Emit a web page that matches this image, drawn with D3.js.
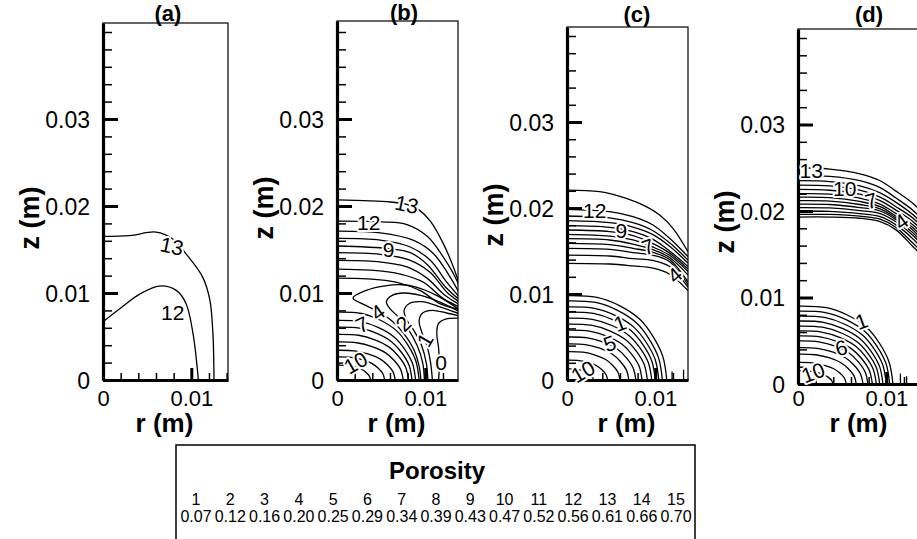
<!DOCTYPE html>
<html><head><meta charset="utf-8">
<script src="https://cdn.jsdelivr.net/npm/d3@7"></script>
<style>body{margin:0;background:#fff}svg{display:block}text{font-family:"Liberation Sans",Arial,Helvetica,sans-serif;fill:#000}</style>
</head><body><svg id="c" width="917" height="539"></svg>
<script>
// ---------- data (r, z in mm) ----------
const panelTitles = ["(a)", "(b)", "(c)", "(d)"];
const zMajor = [0, 10, 20, 30];
const zMajorLabels = ["0", "0.01", "0.02", "0.03"];
const zMinor = [2, 4, 6, 8, 12, 14, 16, 18, 22, 24, 26, 28, 32, 34, 36, 38, 40];
const rMajor = [0, 10];
const rMajorLabels = ["0", "0.01"];
const rMinor = [2, 4, 6, 8, 12, 14];
const legendLevels = [1, 2, 3, 4, 5, 6, 7, 8, 9, 10, 11, 12, 13, 14, 15];
const legendPorosity = [0.07, 0.12, 0.16, 0.20, 0.25, 0.29, 0.34, 0.39, 0.43, 0.47, 0.52, 0.56, 0.61, 0.66, 0.70];

// normalized shape of the quarter-arc contours near the origin
const arcShape = [[0, 1], [0.3, 0.98], [0.53, 0.88], [0.73, 0.72], [0.86, 0.52], [0.96, 0.28], [1, 0]];

// panel (a)
const contoursA = [
  [[0, 16.5], [3, 16.6], [6, 17.0], [7.9, 16.2], [9.4, 14.5], [11.3, 11.8], [12.1, 9.2], [12.45, 5.3], [12.57, 0]],
  [[0, 6.7], [1.9, 8.2], [4.2, 9.9], [6.4, 10.8], [8.3, 10.3], [9.4, 8.8], [10.2, 5.3], [10.8, 0]]
];
const labelsA = [["13", 7.8, 15.4, 12], ["12", 7.9, 7.8, 0]];

// panel (b)
const bBand = [
  [[0, 20.7], [6.04, 20.46], [7.9, 20.2], [9.25, 19.58], [10.57, 18.25], [12.08, 15.59], [13.2, 12.93], [14.15, 10.08]],
  [[0, 18.25], [5.09, 18.17], [7.92, 17.87], [10.19, 16.54], [12.08, 14.07], [13.58, 11.41], [14.15, 9.7]],
  [[0, 17.11], [4.91, 16.92], [8.68, 16.05], [10.94, 14.52], [12.83, 11.79], [14.15, 9.43]],
  [[0, 16.27], [4.91, 16.08], [8.3, 15.29], [10.57, 13.76], [12.45, 11.22], [14.15, 9.2]],
  [[0, 15.4], [5.85, 15.1], [8.3, 14.64], [10.19, 13.31], [12.26, 10.72], [14.15, 8.97]],
  [[0, 14.64], [4.91, 14.45], [8.3, 13.76], [10.57, 12.36], [12.45, 10.08], [14.15, 8.75]],
  [[0, 13.76], [4.53, 13.61], [7.92, 13.0], [10.19, 11.71], [12.26, 9.7], [14.15, 8.52]],
  [[0, 12.74], [3.77, 12.62], [7.17, 12.17], [9.81, 11.22], [12.08, 9.32], [14.15, 8.29]],
  [[0, 11.71], [3.4, 11.63], [6.79, 11.22], [9.43, 10.27], [11.7, 8.75], [14.15, 8.06]]
];
const bHooks = [
  [[9.5, 0], [9.3, 1.6], [8.7, 3.5], [7.6, 5.3], [6.2, 6.8], [4.6, 7.9], [3.2, 8.6], [1.81, 9.43], [3.4, 10.34], [5.28, 10.8], [7.36, 10.95], [9.06, 10.65], [11.32, 9.7], [14.15, 7.9]],
  [[9.9, 0], [9.7, 2.0], [9.1, 3.9], [8.1, 5.8], [7.0, 7.2], [6.0, 8.2], [5.6, 9.0], [6.2, 9.7], [7.6, 10.0], [9.6, 9.7], [11.8, 8.9], [14.15, 7.7]],
  [[10.3, 0], [10.1, 2.0], [9.6, 3.9], [8.7, 5.7], [7.9, 6.9], [7.6, 8.0], [8.2, 8.8], [9.6, 9.0], [11.4, 8.5], [14.15, 7.5]],
  [[10.8, 0], [10.6, 2.0], [10.2, 3.9], [9.6, 5.5], [9.3, 6.8], [9.7, 7.7], [10.8, 8.0], [12.4, 7.7], [14.15, 7.3]],
  [[11.5, 0], [11.6, 1.8], [11.5, 3.7], [11.3, 5.4], [11.5, 6.5], [12.3, 7.0], [14.15, 7.1]]
];
const bArcs = [[9.3, 7.8], [8.9, 6.84], [8.5, 6.08], [8.1, 5.25], [7.5, 4.37], [6.6, 3.42], [5.4, 2.66], [3.8, 1.71]];
const labelsB = [["13", 7.9, 20.2, 12], ["12", 3.6, 18.06, 0], ["9", 5.85, 15.05, 0], ["4", 4.6, 7.8, -35],
  ["7", 2.85, 6.4, -25], ["2", 7.5, 6.5, -45], ["1", 9.95, 4.6, -60], ["0", 11.8, 2.0, 0], ["10", 2.1, 2.0, -30]];

// panel (c)
const cTop = [
  [[0, 22.09], [3.7, 21.9], [6.72, 21.12], [8.98, 20.16], [10.49, 19.19], [12.0, 17.64], [13.7, 14.92]],
  [[0, 19.84], [4.83, 19.57], [7.47, 18.99], [9.74, 18.02], [11.62, 16.47], [13.7, 14.34]]
];
const cBandR = [0, 4.83, 7.47, 9.74, 11.62, 13.7];
const cBandZ = [
  [19.07, 18.84, 18.29, 17.36, 15.95, 13.95],
  [18.53, 18.29, 17.79, 16.9, 15.55, 13.6],
  [17.95, 17.75, 17.25, 16.35, 15.0, 13.2],
  [17.44, 17.25, 16.78, 15.85, 14.75, 12.9],
  [16.94, 16.74, 16.28, 15.45, 14.5, 12.6],
  [16.43, 16.28, 15.81, 15.15, 14.25, 12.2],
  [15.89, 15.74, 15.31, 14.85, 14.0, 11.4],
  [15.31, 15.19, 14.81, 14.5, 13.75, 11.1],
  [14.53, 14.42, 14.11, 13.9, 13.2, 10.8],
  [13.57, 13.49, 13.26, 13.0, 12.3, 10.4]
];
const cArcs = [[11.3, 9.8], [10.8, 9.2], [10.4, 8.5], [10.0, 7.9], [9.6, 7.2], [9.1, 6.5], [8.5, 5.8], [7.8, 5.0], [7.0, 4.2], [6.0, 3.3], [4.6, 2.3], [3.0, 1.3]];
const cStubs = [[[11.9, 0], [11.9, 1.0]], [[13.2, 0], [13.2, 1.2]]];
const labelsC = [["12", 3.13, 19.77, 0], ["9", 6.15, 17.44, 0], ["7", 9.17, 15.5, -20], ["4", 12.19, 12.21, -40],
  ["1", 6.0, 6.6, -20], ["5", 4.83, 4.26, -20], ["10", 1.8, 1.0, -30]];

// panel (d)
const dBandR = [0, 3.6, 7.0, 9.3, 11.1, 13.0, 13.9];
const dBandZ = [
  [25.0, 24.85, 24.3, 23.5, 22.3, 20.9, 20.0],
  [24.1, 24.0, 23.5, 22.7, 21.5, 20.1, 19.2],
  [23.5, 23.4, 22.9, 22.1, 21.0, 19.6, 18.7],
  [23.0, 22.9, 22.4, 21.6, 20.5, 19.2, 18.3],
  [22.5, 22.4, 21.95, 21.2, 20.1, 18.8, 17.9],
  [22.0, 21.95, 21.5, 20.8, 19.7, 18.4, 17.5],
  [21.6, 21.55, 21.1, 20.5, 19.4, 18.1, 17.1],
  [21.2, 21.15, 20.75, 20.25, 19.2, 17.8, 16.8],
  [20.8, 20.75, 20.4, 20.0, 19.0, 17.5, 16.5],
  [20.4, 20.35, 20.05, 19.7, 18.75, 17.2, 16.2],
  [20.0, 19.95, 19.7, 19.35, 18.4, 16.8, 15.8],
  [19.6, 19.6, 19.4, 19.05, 18.1, 16.3, 15.4],
  [19.3, 19.3, 19.16, 18.77, 17.82, 15.9, 15.0]
];
const dArcs = [[10.75, 9.0], [10.38, 8.43], [10.0, 7.85], [9.62, 7.28], [9.25, 6.7], [8.87, 6.13], [8.42, 5.56], [7.92, 4.98], [7.36, 4.21], [6.6, 3.45], [5.47, 2.49], [3.96, 1.53]];
const dStubs = [[[11.6, 0], [11.6, 1.2]], [[12.3, 0], [12.3, 0.9]]];
const labelsD = [["13", 1.5, 24.7, 0], ["10", 5.28, 22.6, 0], ["7", 8.3, 21.2, -15], ["4", 11.7, 18.8, -35],
  ["1", 7.17, 7.28, -20], ["6", 4.9, 4.2, -15], ["10", 1.7, 1.35, -20]];

// ---------- assemble contour sets ----------
const arcPts = ([R, Z]) => arcShape.map(([u, v]) => [u * R, v * Z]);
const bandPts = (rs, zs) => rs.map((r, i) => [r, zs[i]]);
const setsA = contoursA;
const setsB = bBand.concat(bHooks, bArcs.map(arcPts));
const setsC = cTop.concat(cBandZ.map(zs => bandPts(cBandR, zs)), cArcs.map(arcPts), cStubs);
const setsD = dBandZ.map(zs => bandPts(dBandR, zs)).concat(dArcs.map(arcPts), dStubs);

// ---------- layout ----------
const panels = [
  {left: 103, width: 125, top: 23, bottom: 380, ky: 8.7, titleX: 168, titleY: 21, zLabY: 218, sets: setsA, labels: labelsA},
  {left: 337, width: 121, top: 21, bottom: 380, ky: 8.7, titleX: 404, titleY: 20, zLabY: 208, sets: setsB, labels: labelsB},
  {left: 567, width: 121, top: 27, bottom: 380, ky: 8.6, titleX: 637, titleY: 22, zLabY: 215, sets: setsC, labels: labelsC},
  {left: 798, width: 123, top: 29, bottom: 384, ky: 8.65, titleX: 869, titleY: 22, zLabY: 222, sets: setsD, labels: labelsD}
];
const kx = 8.83; // px per mm in r

const svg = d3.select("#c");
const defs = svg.append("defs");

panels.forEach((p, i) => {
  const x = d3.scaleLinear().domain([0, p.width / kx]).range([p.left, p.left + p.width]);
  const y = d3.scaleLinear().domain([0, (p.bottom - p.top) / p.ky]).range([p.bottom, p.top]);
  const g = svg.append("g");
  defs.append("clipPath").attr("id", "clip" + i).append("rect")
    .attr("x", p.left).attr("y", p.top).attr("width", p.width).attr("height", p.bottom - p.top);

  const line = d3.line().x(d => x(d[0])).y(d => y(d[1])).curve(d3.curveCatmullRom.alpha(0.5));
  const cg = g.append("g").attr("clip-path", `url(#clip${i})`);
  cg.selectAll("path").data(p.sets).join("path")
    .attr("d", line).attr("fill", "none").attr("stroke", "#000").attr("stroke-width", 1.3);

  // frame (top/right thin)
  g.append("rect").attr("x", p.left).attr("y", p.top).attr("width", p.width).attr("height", p.bottom - p.top)
    .attr("fill", "none").attr("stroke", "#000").attr("stroke-width", 1.2);

  // y axis
  const yMin = g.append("g").attr("transform", `translate(${p.left},0)`)
    .call(d3.axisLeft(y).tickValues(zMinor.filter(v => y(v) > p.top + 3)).tickSize(-9).tickFormat(""));
  yMin.select(".domain").remove();
  yMin.selectAll("line").attr("stroke-width", 1.5);
  const yMaj = g.append("g").attr("transform", `translate(${p.left},0)`)
    .call(d3.axisLeft(y).tickValues(zMajor).tickSize(-15).tickSizeOuter(0).tickPadding(13)
      .tickFormat((d, j) => zMajorLabels[j]));
  yMaj.select(".domain").attr("stroke-width", 3.2);
  yMaj.selectAll("line").attr("stroke-width", 3);
  yMaj.selectAll("text").attr("font-size", 23).attr("font-family", "Liberation Sans, Arial, sans-serif").attr("dy", "0.36em");

  // x axis
  const xMin = g.append("g").attr("transform", `translate(0,${p.bottom})`)
    .call(d3.axisBottom(x).tickValues(rMinor.filter(v => x(v) < p.left + p.width - 1)).tickSize(-7).tickFormat(""));
  xMin.select(".domain").remove();
  xMin.selectAll("line").attr("stroke-width", 1.5);
  const xMaj = g.append("g").attr("transform", `translate(0,${p.bottom})`)
    .call(d3.axisBottom(x).tickValues(rMajor).tickSize(-12).tickSizeOuter(0).tickPadding(0)
      .tickFormat((d, j) => rMajorLabels[j]));
  xMaj.select(".domain").attr("stroke-width", 3.2);
  xMaj.selectAll("line").attr("stroke-width", 3);
  xMaj.selectAll("text").attr("font-size", 22).attr("font-family", "Liberation Sans, Arial, sans-serif")
    .attr("dy", null).attr("y", 406 - p.bottom);

  // contour labels
  g.selectAll("text.cl").data(p.labels).join("text").attr("class", "cl")
    .attr("transform", d => `translate(${x(d[1])},${y(d[2])}) rotate(${d[3]})`)
    .attr("text-anchor", "middle").attr("dy", "0.36em").attr("font-size", 21)
    .attr("stroke", "#fff").attr("stroke-width", 4).attr("paint-order", "stroke").attr("stroke-linejoin", "round")
    .text(d => d[0]);

  // titles and axis names
  g.append("text").attr("x", p.titleX).attr("y", p.titleY).attr("text-anchor", "middle")
    .attr("font-size", 22).attr("font-weight", "bold").text(panelTitles[i]);
  g.append("text").attr("x", p.left + p.width / 2 - 1).attr("y", 432).attr("text-anchor", "middle")
    .attr("font-size", 26).attr("font-weight", "bold").text("r (m)");
  g.append("text").attr("transform", `translate(${p.left - 74},${p.zLabY}) rotate(-90)`)
    .attr("text-anchor", "middle").attr("dy", "0.36em")
    .attr("font-size", 27).attr("font-weight", "bold").text("z (m)");
});

// ---------- legend ----------
const lx = d3.scaleLinear().domain([1, 15]).range([196, 676]);
const lg = svg.append("g");
lg.append("rect").attr("x", 176).attr("y", 445).attr("width", 519).attr("height", 110)
  .attr("fill", "none").attr("stroke", "#000").attr("stroke-width", 1.5);
lg.append("text").attr("x", 437).attr("y", 479).attr("text-anchor", "middle")
  .attr("font-size", 24).attr("font-weight", "bold").text("Porosity");
lg.selectAll("text.lv").data(legendLevels).join("text").attr("class", "lv")
  .attr("x", d => lx(d)).attr("y", 505).attr("text-anchor", "middle").attr("font-size", 16).text(d => d);
lg.selectAll("text.pv").data(legendPorosity).join("text").attr("class", "pv")
  .attr("x", (d, i) => lx(legendLevels[i])).attr("y", 522).attr("text-anchor", "middle").attr("font-size", 16)
  .text(d => d3.format(".2f")(d));
</script>
</body></html>
